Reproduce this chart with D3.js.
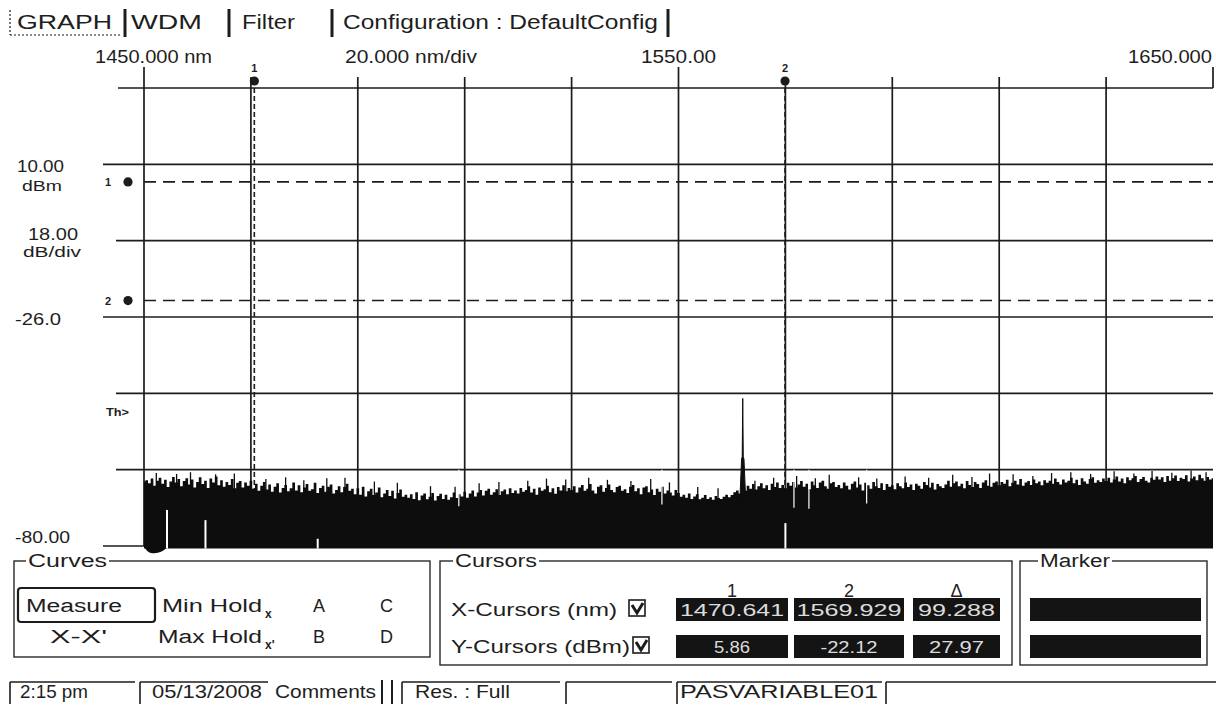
<!DOCTYPE html>
<html>
<head>
<meta charset="utf-8">
<script src="https://cdn.jsdelivr.net/npm/d3@7"></script>
<style>
  body { margin: 0; background: #fff; }
  svg { display: block; }
  text { font-family: "Liberation Sans", Arial, sans-serif; fill: #1e1e1e; }
</style>
</head>
<body>
<svg id="osa" width="1216" height="706"></svg>
<script>
// ---- Spectrum trace (OSA measure curve) ----
const traceStartNm = 1450;
const traceStepNm = 0.5;
// top of the noise floor, dBm, one value every 0.5 nm from 1450 to 1650 nm
const noiseLevel = [
  -64.8, -64.5, -65.2, -64.1, -65.8, -64.6, -63.9, -65.3, -64.4, -66.1, -64.8, -63.7, -65.0, -64.2, -65.9, -64.7, -64.0, -65.5, -64.3, -66.2,
  -64.9, -63.8, -65.4, -64.6, -66.3, -64.1, -65.0, -63.6, -65.7, -64.5, -66.0, -64.9, -65.6, -64.2, -66.4, -65.1, -64.7, -66.2, -65.0, -65.8,
  -64.6, -66.5, -65.3, -67.0, -65.8, -64.9, -66.7, -65.5, -67.2, -66.0, -65.2, -67.4, -66.3, -65.6, -67.1, -66.4, -65.0, -66.9, -65.7, -67.3,
  -66.2, -65.4, -67.0, -66.6, -65.1, -67.5, -66.3, -65.8, -67.2, -66.0, -65.5, -67.6, -66.8, -65.9, -67.3, -66.1, -65.3, -67.0, -66.5, -67.8,
  -66.4, -67.9, -66.0, -68.3, -67.1, -66.5, -68.0, -67.4, -66.2, -68.5, -67.6, -66.8, -68.2, -67.0, -68.8, -67.5, -66.7, -68.4, -67.9, -68.6,
  -67.8, -68.9, -67.3, -69.2, -68.1, -67.6, -69.0, -68.4, -67.5, -69.3, -68.2, -67.7, -68.9, -67.9, -69.1, -68.5, -67.4, -68.7, -67.8, -68.3,
  -67.2, -68.6, -67.6, -66.9, -68.3, -67.4, -66.8, -68.1, -67.0, -66.5, -67.9, -67.3, -66.6, -68.0, -67.1, -66.7, -67.8, -66.4, -67.5, -66.9,
  -67.6, -66.3, -67.2, -66.8, -65.9, -67.4, -66.5, -67.9, -66.2, -67.0, -66.6, -65.8, -67.3, -66.4, -67.7, -66.1, -66.9, -65.7, -67.1, -66.3,
  -66.8, -65.9, -67.4, -66.2, -65.6, -67.0, -66.5, -65.4, -66.9, -67.6, -66.0, -65.7, -67.2, -66.3, -65.5, -66.8, -67.3, -66.1, -65.8, -67.0,
  -66.6, -67.5, -66.0, -65.6, -67.1, -66.4, -67.8, -66.2, -65.9, -67.3, -66.7, -68.0, -66.5, -67.2, -66.0, -67.6, -66.9, -67.4, -68.1, -66.8,
  -67.5, -68.4, -67.9, -68.6, -67.6, -68.9, -68.3, -67.8, -69.0, -68.6, -68.0, -68.9, -68.5, -69.1, -68.2, -68.7, -68.9, -68.4, -67.9, -68.5,
  -68.0, -67.3, -66.9, -67.6, -66.2, -67.0, -65.8, -66.5, -65.4, -66.7, -65.9, -65.2, -66.4, -65.7, -66.8, -65.3, -66.1, -65.0, -66.3, -65.6,
  -66.4, -65.1, -65.8, -64.9, -66.2, -65.5, -64.7, -66.0, -65.3, -66.6, -64.8, -65.7, -66.3, -65.0, -64.6, -65.9, -66.5, -65.2, -64.9, -66.1,
  -65.6, -66.4, -65.0, -65.8, -66.7, -65.3, -64.8, -66.2, -65.5, -66.9, -65.1, -65.7, -66.5, -64.9, -65.9, -66.3, -65.2, -66.8, -65.4, -66.0,
  -65.7, -66.6, -65.2, -65.9, -66.4, -65.0, -66.1, -65.5, -66.8, -65.3, -65.8, -66.5, -64.9, -65.6, -66.2, -65.1, -66.7, -65.4, -65.9, -66.3,
  -65.5, -64.6, -66.0, -65.2, -64.8, -65.9, -65.3, -66.4, -64.7, -65.6, -66.1, -64.9, -65.4, -66.3, -65.0, -64.5, -65.8, -66.0, -65.1, -64.8,
  -65.7, -64.9, -65.3, -64.4, -65.9, -65.1, -64.6, -65.5, -64.2, -65.8, -65.0, -64.7, -65.6, -64.3, -65.2, -64.8, -65.7, -64.5, -65.1, -64.6,
  -65.3, -64.1, -64.9, -65.5, -64.3, -65.0, -64.6, -63.9, -65.2, -64.4, -65.6, -64.0, -64.8, -65.3, -64.2, -63.8, -65.1, -64.5, -64.9, -64.1,
  -64.7, -63.9, -65.0, -64.3, -63.6, -64.8, -64.1, -65.2, -63.8, -64.5, -64.0, -63.5, -64.9, -64.2, -63.7, -64.6, -65.0, -63.9, -64.4, -63.6,
  -64.3, -63.8, -64.9, -63.5, -64.6, -64.0, -63.4, -64.7, -63.9, -64.2, -63.3, -64.8, -64.1, -63.6, -64.5, -63.2, -64.0, -64.6, -63.7, -64.3,
  -64.0
];
// single-sample spikes standing above the noise floor [nm, dBm]
const noiseSpikes = [
  [1452.3, -62.8], [1456.1, -63.0], [1458.7, -62.6], [1463.4, -63.1], [1466.9, -62.9], [1472.8, -64.2],
  [1476.5, -63.8], [1479.9, -64.5], [1484.2, -64.0], [1487.6, -63.9], [1493.1, -64.8], [1497.4, -65.1],
  [1503.6, -65.9], [1508.2, -66.0], [1512.7, -65.2], [1516.4, -64.9], [1521.8, -64.6], [1525.3, -64.1],
  [1528.9, -64.3], [1533.2, -63.9], [1536.7, -64.4], [1541.1, -64.7], [1544.8, -64.2], [1548.3, -65.0],
  [1553.6, -66.1], [1557.4, -66.4], [1564.3, -64.6], [1567.8, -63.9], [1572.1, -63.5], [1575.6, -64.0],
  [1578.2, -63.2], [1583.7, -63.8], [1587.1, -64.1], [1592.4, -63.6], [1596.8, -63.9], [1601.3, -63.2],
  [1604.9, -63.7], [1608.2, -62.9], [1612.6, -63.1], [1616.3, -63.5], [1619.8, -62.8], [1623.4, -62.6],
  [1627.1, -63.0], [1631.5, -62.4], [1635.2, -62.9], [1638.6, -62.3], [1642.3, -62.7], [1645.9, -62.2],
  [1648.7, -62.6]
];
// the single laser line near 1562 nm
const peakNm  = [1561.55, 1561.8, 1561.92, 1562.02, 1562.12, 1562.25, 1562.5];
const peakDbm = [-67.0,   -59.5,  -59.0,   -45.2,   -59.0,   -59.5,   -67.0];
// trace dips below the bottom of the screen at the start of the sweep
const leadInNm  = [1450.0, 1450.6, 1451.6, 1452.8, 1453.8, 1454.6];
const leadInDbm = [-80.0, -81.4, -81.8, -81.6, -81.0, -80.0];
// narrow drop-outs of the trace (wavelength, dBm where the gap starts)
const gapNm  = [1454.3, 1461.5, 1482.5, 1570.0];
const gapDbm = [-71.5, -73.9, -78.3, -74.6];
// thin notches cut down from the top of the noise (wavelength, deepest dBm)
const notchNm  = [1508.9, 1546.9, 1571.6, 1574.4, 1585.2];
const notchDbm = [-70.6, -70.2, -71.0, -71.2, -70.0];

// ---- Cursors ----
const cursorX = [1470.641, 1569.929];   // nm
const cursorY = [5.857, -22.116];       // dBm

// ---- Axis text ----
const xTickValues = [1450, 1470, 1490, 1510, 1530, 1550, 1570, 1590, 1610, 1630, 1650];
const yTickValues = [-80, -62, -44, -26, -8, 10, 28];
const xAxisTexts = ["1450.000 nm", "20.000 nm/div", "1550.00", "1650.000"];
const yAxisTexts = ["10.00", "dBm", "18.00", "dB/div", "-26.0", "-80.00"];
const tabLabels = ["GRAPH", "WDM", "Filter", "Configuration : DefaultConfig"];
const statusLabels = ["2:15 pm", "05/13/2008", "Comments", "Res. : Full", "PASVARIABLE01"];

// --------------------------------------------------------------
const svg = d3.select("#osa");
const ink = "#1c1c1c";
const x = d3.scaleLinear().domain([1450, 1650]).range([144, 1213]);
const y = d3.scaleLinear().domain([-80, 28]).range([546, 88]);

function txt(parent, s, px, py, o = {}) {
  const t = parent.append("text")
    .attr("x", px).attr("y", py)
    .attr("font-size", o.size || 17)
    .attr("text-anchor", o.anchor || "start")
    .text(s);
  if (o.width) t.attr("textLength", o.width).attr("lengthAdjust", "spacingAndGlyphs");
  if (o.weight) t.attr("font-weight", o.weight);
  if (o.fill) t.style("fill", o.fill);
  return t;
}
function line(parent, x1, y1, x2, y2, w = 1.5, dash = null, col = ink) {
  const l = parent.append("line")
    .attr("x1", x1).attr("y1", y1).attr("x2", x2).attr("y2", y2)
    .attr("stroke", col).attr("stroke-width", w);
  if (dash) l.attr("stroke-dasharray", dash);
  return l;
}

// ---- tab strip ----
const tabs = svg.append("g");
const tabPos = [[17, 95], [131, 71], [242, 53], [343, 315]];
tabLabels.forEach((s, i) => txt(tabs, s, tabPos[i][0], 29, { size: 20, width: tabPos[i][1] }));
[125, 229, 332, 668].forEach(px => line(tabs, px, 9, px, 37, 3));
line(tabs, 10, 10, 10, 35, 1.2, "2 2");
line(tabs, 10, 35, 122, 35, 1.2, "2 2");

// ---- grid ----
const grid = svg.append("g");
yTickValues.forEach(v => {
  const left = v === 28 ? 118 : ([10, -26, -80].includes(v) ? 103 : 116);
  line(grid, left, y(v), x(1650), y(v), 1.7);
});
xTickValues.forEach(v => {
  const major = (v === 1450 || v === 1550 || v === 1650);
  const top = major ? 67 : 77;
  const bottom = v === 1650 ? y(28) : y(-80);
  line(grid, x(v), top, x(v), bottom, 1.7);
});

// axis text
const ax = svg.append("g");
txt(ax, xAxisTexts[0], 95, 63, { size: 18, width: 117 });
txt(ax, xAxisTexts[1], 345, 63, { size: 18, width: 132 });
txt(ax, xAxisTexts[2], 641, 63, { size: 18, width: 75 });
txt(ax, xAxisTexts[3], 1212, 63, { size: 18, width: 84, anchor: "end" });
txt(ax, yAxisTexts[0], 17, 172, { size: 17, width: 47 });
txt(ax, yAxisTexts[1], 22, 191, { size: 14, width: 40 });
txt(ax, yAxisTexts[2], 28, 240, { size: 17, width: 50 });
txt(ax, yAxisTexts[3], 23, 257, { size: 14, width: 58 });
txt(ax, yAxisTexts[4], 15, 325, { size: 17, width: 46 });
txt(ax, yAxisTexts[5], 15, 543, { size: 17, width: 55 });
txt(ax, "Th>", 106, 416, { size: 11, weight: "bold", width: 23 });

// ---- cursors ----
const cur = svg.append("g");
cursorX.forEach((v, i) => {
  line(cur, x(v), y(28), x(v), y(-80), 1.6, "5 3");
  cur.append("circle").attr("cx", x(v)).attr("cy", 81).attr("r", 4.6).attr("fill", ink);
  txt(cur, String(i + 1), x(v), 72, { size: 11, weight: "bold", anchor: "middle" });
});
cursorY.forEach((v, i) => {
  line(cur, x(1450), y(v), x(1650), y(v), 1.6, "12 7");
  cur.append("circle").attr("cx", 128).attr("cy", y(v)).attr("r", 4.6).attr("fill", ink);
  txt(cur, String(i + 1), 108, y(v) + 4, { size: 11, weight: "bold", anchor: "middle" });
});

// ---- spectrum trace ----
const spec = svg.append("g");
const traceInk = "#0d0d0d";
const noisePts = noiseLevel.map((v, i) => [traceStartNm + i * traceStepNm, v]);
spec.append("path")
  .datum(noisePts)
  .attr("fill", traceInk)
  .attr("d", d3.area().x(d => x(d[0])).y0(y(-80.6)).y1(d => y(d[1])).curve(d3.curveStep));
noiseSpikes.forEach(s => line(spec, x(s[0]), y(s[1]), x(s[0]), y(-70), 1.3, null, traceInk));
notchNm.forEach((v, i) => line(spec, x(v), y(-62), x(v), y(notchDbm[i]), 1.2, null, "#fff"));
spec.append("path")
  .datum(leadInNm.map((v, i) => [v, leadInDbm[i]]))
  .attr("fill", traceInk)
  .attr("d", d3.area().x(d => x(d[0])).y0(y(-80)).y1(d => y(d[1])).curve(d3.curveBasis));
spec.append("path")
  .datum(peakNm.map((v, i) => [v, peakDbm[i]]))
  .attr("fill", traceInk).attr("stroke", traceInk).attr("stroke-width", 1)
  .attr("d", d3.area().x(d => x(d[0])).y0(y(-70)).y1(d => y(d[1])));
gapNm.forEach((v, i) => line(spec, x(v), y(gapDbm[i]), x(v), y(-80.6), 2, null, "#fff"));

// ---- lower panel ----
const panel = svg.append("g");
function groupBox(x0, y0, x1, y1, title, tx, tw) {
  panel.append("rect").attr("x", x0).attr("y", y0).attr("width", x1 - x0).attr("height", y1 - y0)
    .attr("fill", "none").attr("stroke", "#2a2a2a").attr("stroke-width", 1.4);
  panel.append("rect").attr("x", tx - 2).attr("y", y0 - 10).attr("width", tw + 4).attr("height", 16).attr("fill", "#fff");
  txt(panel, title, tx, y0 + 6, { size: 18, width: tw });
}
groupBox(14, 561, 430, 657, "Curves", 28, 79);
groupBox(440, 561, 1012, 665, "Cursors", 455, 82);
groupBox(1020, 561, 1207, 665, "Marker", 1040, 70);

// Curves group
panel.append("rect").attr("x", 18).attr("y", 588).attr("width", 137).attr("height", 34).attr("rx", 3)
  .attr("fill", "none").attr("stroke", "#1c1c1c").attr("stroke-width", 2.2);
txt(panel, "Measure", 26, 612, { size: 18, width: 96 });
txt(panel, "X-X'", 50, 643, { size: 18, width: 57 });
txt(panel, "Min Hold", 162, 612, { size: 18, width: 100 });
txt(panel, "x", 265, 618, { size: 12, weight: "bold" });
txt(panel, "Max Hold", 158, 643, { size: 18, width: 104 });
txt(panel, "x'", 265, 649, { size: 12, weight: "bold" });
txt(panel, "A", 313, 612, { size: 18 });
txt(panel, "B", 313, 643, { size: 18 });
txt(panel, "C", 380, 612, { size: 18 });
txt(panel, "D", 380, 643, { size: 18 });

// Cursors group
const boxCols = [[676, 788], [794, 904], [913, 1000]];
const rows = [{ label: "X-Cursors (nm)", lw: 166, y0: 598 }, { label: "Y-Cursors (dBm)", lw: 179, y0: 635 }];
const colHeads = ["1", "2", "\u0394"];
boxCols.forEach((c, i) => txt(panel, colHeads[i], (c[0] + c[1]) / 2, 597, { size: 18, anchor: "middle" }));
const xVals = [cursorX[0].toFixed(3), cursorX[1].toFixed(3), (cursorX[1] - cursorX[0]).toFixed(3)];
const yVals = [cursorY[0].toFixed(2), cursorY[1].toFixed(2), (cursorY[0] - cursorY[1]).toFixed(2)];
const valWidths = [[104, 105, 77], [36, 57, 55]];
[xVals, yVals].forEach((vals, r) => {
  const row = rows[r];
  txt(panel, row.label, 451, row.y0 + 18, { size: 18, width: row.lw });
  // check box
  const cbx = r === 0 ? 629 : 633, cby = row.y0 + 2;
  panel.append("rect").attr("x", cbx).attr("y", cby).attr("width", 16).attr("height", 16)
    .attr("fill", "#fff").attr("stroke", ink).attr("stroke-width", 1.6);
  panel.append("path").attr("d", `M${cbx + 3},${cby + 5} L${cbx + 8},${cby + 13} L${cbx + 14},${cby + 3}`)
    .attr("fill", "none").attr("stroke", ink).attr("stroke-width", 3);
  boxCols.forEach((c, i) => {
    panel.append("rect").attr("x", c[0]).attr("y", row.y0).attr("width", c[1] - c[0]).attr("height", 23).attr("fill", "#141414");
    txt(panel, vals[i], (c[0] + c[1]) / 2, row.y0 + 18, { size: 17, anchor: "middle", width: valWidths[r][i], fill: "#dcdcdc" });
  });
  panel.append("rect").attr("x", 1030).attr("y", row.y0).attr("width", 171).attr("height", 23).attr("fill", "#141414");
});

// ---- status bar ----
const status = svg.append("g");
[[10, 135], [140, 268], [402, 560], [566, 672], [677, 882], [886, 1216]].forEach(p => {
  line(status, p[0], 682, p[1], 682, 1.4);
  line(status, p[0], 682, p[0], 704, 1.6);
});
line(status, 382, 680, 382, 704, 2);
line(status, 392, 680, 392, 704, 2);
const statusPos = [[20, 68], [152, 110], [275, 101], [415, 95], [680, 198]];
statusLabels.forEach((s, i) => txt(status, s, statusPos[i][0], 698, { size: 19, width: statusPos[i][1] }));
</script>
</body>
</html>
